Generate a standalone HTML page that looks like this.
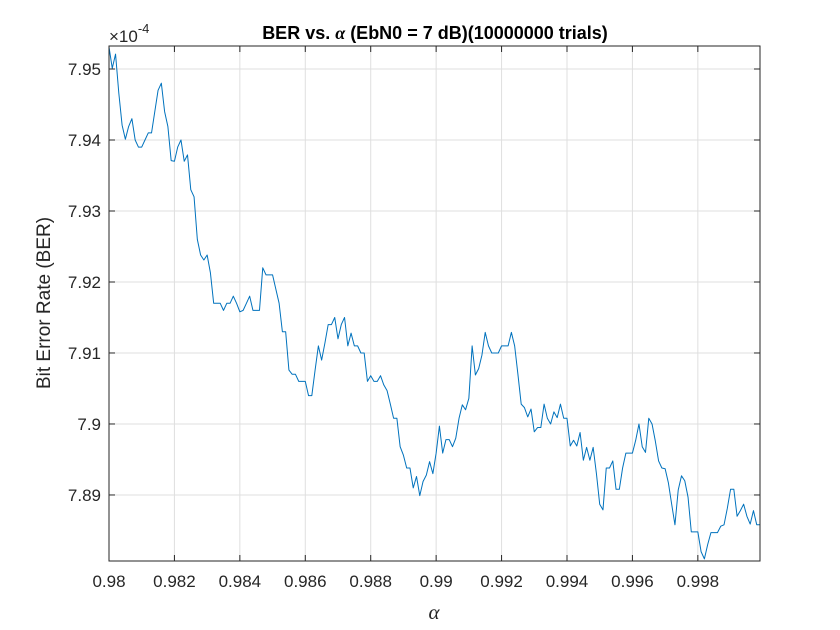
<!DOCTYPE html>
<html><head><meta charset="utf-8"><style>
html,body{margin:0;padding:0;background:#fff;}
svg{display:block;font-family:"Liberation Sans",sans-serif;}
</style></head><body>
<svg id="chart" width="840" height="630" viewBox="0 0 840 630" xmlns="http://www.w3.org/2000/svg">
<rect x="0" y="0" width="840" height="630" fill="#fff"/>
<rect x="109" y="46" width="651" height="515" fill="#fff"/>
<g id="grid"></g>
<g id="series"></g>
<g id="axes"></g>
<text x="435" y="39" text-anchor="middle" font-size="18" font-weight="bold" fill="#000">BER vs. <tspan font-family="Liberation Serif" font-style="italic">α</tspan> (EbN0 = 7 dB)(10000000 trials)</text>
<text x="109" y="42" font-size="17" fill="#262626">×10<tspan dy="-9" font-size="13">-4</tspan></text>
<text transform="translate(50,303) rotate(-90)" text-anchor="middle" font-size="19" fill="#262626">Bit Error Rate (BER)</text>
<text x="434" y="619" text-anchor="middle" font-size="21" font-style="italic" font-family="Liberation Serif" fill="#262626">α</text>
</svg>
<script>
const xTicks = [0.98,0.982,0.984,0.986,0.988,0.99,0.992,0.994,0.996,0.998];
const xTickLabels = ["0.98","0.982","0.984","0.986","0.988","0.99","0.992","0.994","0.996","0.998"];
const yTicks = [7.89,7.90,7.91,7.92,7.93,7.94,7.95];
const yTickLabels = ["7.89","7.9","7.91","7.92","7.93","7.94","7.95"];
const berValues = [
7.9531,7.9501,7.9521,7.9466,7.9421,7.9401,7.9419,7.9430,7.9400,7.9390,
7.9390,7.9400,7.9410,7.9410,7.9440,7.9470,7.9480,7.9440,7.9419,7.9371,
7.9370,7.9390,7.9400,7.9370,7.9379,7.9330,7.9320,7.9260,7.9238,7.9231,
7.9238,7.9213,7.9170,7.9170,7.9170,7.9160,7.9170,7.9170,7.9180,7.9170,
7.9158,7.9160,7.9170,7.9180,7.9160,7.9160,7.9160,7.9220,7.9210,7.9210,
7.9210,7.9190,7.9170,7.9130,7.9130,7.9076,7.9070,7.9070,7.9060,7.9060,
7.9060,7.9040,7.9040,7.9076,7.9110,7.9090,7.9114,7.9140,7.9140,7.9150,
7.9120,7.9140,7.9150,7.9110,7.9128,7.9110,7.9110,7.9100,7.9100,7.9060,
7.9068,7.9060,7.9060,7.9068,7.9055,7.9047,7.9028,7.9008,7.9008,7.8968,
7.8956,7.8938,7.8938,7.8910,7.8926,7.8899,7.8919,7.8928,7.8947,7.8930,
7.8959,7.8997,7.8959,7.8978,7.8978,7.8968,7.8980,7.9008,7.9027,7.9020,
7.9036,7.9110,7.9069,7.9078,7.9097,7.9129,7.9110,7.9100,7.9100,7.9100,
7.9110,7.9110,7.9110,7.9129,7.9110,7.9070,7.9028,7.9023,7.9010,7.9021,
7.8989,7.8995,7.8995,7.9028,7.9008,7.9000,7.9017,7.9009,7.9028,7.9008,
7.9008,7.8969,7.8977,7.8969,7.8988,7.8949,7.8967,7.8949,7.8967,7.8930,
7.8887,7.8879,7.8938,7.8938,7.8948,7.8908,7.8908,7.8938,7.8959,7.8959,
7.8959,7.8977,7.9000,7.8968,7.8960,7.9008,7.9000,7.8976,7.8948,7.8938,
7.8937,7.8917,7.8887,7.8858,7.8907,7.8927,7.8920,7.8897,7.8848,7.8848,
7.8848,7.8820,7.8810,7.8830,7.8847,7.8847,7.8847,7.8856,7.8858,7.8881,
7.8908,7.8908,7.8870,7.8878,7.8887,7.8870,7.8859,7.8878,7.8858,7.8858
];
const alphaStart = 0.98, alphaStep = 0.0001;

const L=109,R=760,T=46,B=561;
const xMin=0.98,xMax=0.9999,yMin=7.8807,yMax=7.95324;
function xs(v){return L+(v-xMin)/(xMax-xMin)*(R-L);}
function ys(v){return B-(v-yMin)/(yMax-yMin)*(B-T);}
const NS="http://www.w3.org/2000/svg";
function mk(tag,attrs,parent){const e=document.createElementNS(NS,tag);for(const k in attrs)e.setAttribute(k,attrs[k]);parent.appendChild(e);return e;}
const grid=document.getElementById('grid'),axes=document.getElementById('axes'),series=document.getElementById('series');
xTicks.forEach((t,i)=>{const x=xs(t);
 const g=mk('line',{x1:x,x2:x,y1:T,y2:B,stroke:'#dfdfdf','stroke-width':1},grid);
 
 
 const a=mk('line',{x1:x,x2:x,y1:B,y2:B-6,stroke:'#262626','stroke-width':1},axes);
 
 
 const b=mk('line',{x1:x,x2:x,y1:T,y2:T+6,stroke:'#262626','stroke-width':1},axes);
 
 
 const tx=mk('text',{x:x,y:B+26,'text-anchor':'middle','font-size':17,fill:'#262626'},axes);
 tx.textContent=xTickLabels[i];
 
 
});
yTicks.forEach((t,i)=>{const y=ys(t);
 const g=mk('line',{x1:L,x2:R,y1:y,y2:y,stroke:'#dfdfdf','stroke-width':1},grid);
 
 
 const a=mk('line',{x1:L,x2:L+6,y1:y,y2:y,stroke:'#262626','stroke-width':1},axes);
 
 
 const b=mk('line',{x1:R,x2:R-6,y1:y,y2:y,stroke:'#262626','stroke-width':1},axes);
 
 
 const tx=mk('text',{x:L-8,y:y+6,'text-anchor':'end','font-size':17,fill:'#262626'},axes);
 tx.textContent=yTickLabels[i];
 
 
});
const box=mk('rect',{x:L,y:T,width:R-L,height:B-T,fill:'none',stroke:'#262626','stroke-width':1},axes);


const pts=berValues.map((v,i)=>xs(alphaStart+i*alphaStep).toFixed(2)+','+ys(v).toFixed(2)).join(' ');
const line=mk('polyline',{points:pts,fill:'none',stroke:'#0072bd','stroke-width':1,'stroke-linejoin':'round'},series);


</script>
</body></html>
